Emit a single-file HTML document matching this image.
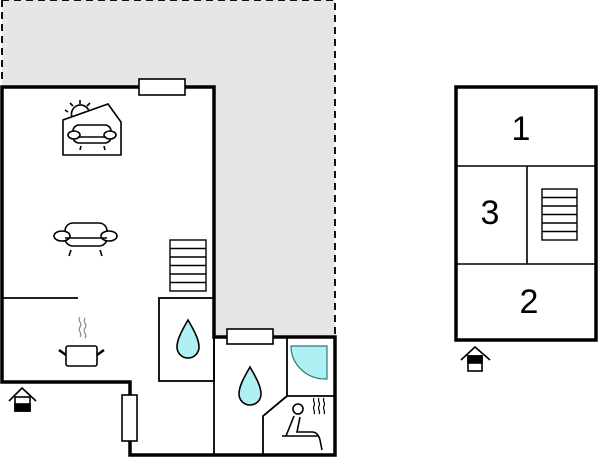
<!DOCTYPE html>
<html><head><style>body{margin:0;background:#fff}svg{display:block}</style></head><body>
<svg width="600" height="458" viewBox="0 0 600 458" xmlns="http://www.w3.org/2000/svg" font-family="Liberation Sans, sans-serif">
<path d="M2 0H335V335H214V87H2Z" fill="#e6e6e6"/>
<path d="M2 0H335V335" fill="none" stroke="#111" stroke-width="2" stroke-dasharray="7,5"/>
<path d="M2 0V84" stroke="#111" stroke-width="2" stroke-dasharray="7,5"/>
<path d="M2 87H214V337H335V455H130V382H2Z" fill="#fff" stroke="#000" stroke-width="3.5"/>
<g fill="none" stroke="#000" stroke-width="1.8">
<path d="M3 298H78"/>
<rect x="159" y="298" width="55" height="83"/>
<path d="M214 337V455"/>
<path d="M287 337V396H335"/>
<path d="M287 396L263 416V455"/>
</g>
<g fill="#fff" stroke="#000" stroke-width="1.6">
<rect x="139" y="79" width="46" height="16"/>
<rect x="227" y="329" width="46" height="15"/>
<rect x="122" y="395" width="15" height="46"/>
</g>
<g fill="#fff" stroke="#000" stroke-width="1.4">
<rect x="170" y="240" width="36" height="51"/>
<path d="M170 248.5H206M170 257H206M170 265.5H206M170 274H206M170 282.5H206"/>
</g>
<g fill="none" stroke="#000" stroke-width="1.6">
<path d="M63 154V155H121V122L108 104L63 120Z M63 120V154"/>
<path d="M72 117A9 9 0 0 1 89 111"/>
<path d="M80 104V100M73 106L70 103M87 106L90 103M68 112L65 110"/>
<rect x="73" y="125" width="38" height="18" rx="6" fill="#fff"/>
<ellipse cx="74" cy="135" rx="6" ry="4" fill="#fff"/>
<ellipse cx="110" cy="135" rx="6" ry="4" fill="#fff"/>
<path d="M78 137H106"/>
<path d="M81 146L80 150M104 146L105 150"/>
</g>
<g fill="none" stroke="#000" stroke-width="1.6">
<rect x="65" y="223" width="42" height="23" rx="8"/>
<ellipse cx="62" cy="236" rx="8" ry="5" fill="#fff"/>
<ellipse cx="109" cy="236" rx="8" ry="5" fill="#fff"/>
<path d="M65 238H107"/>
<path d="M71 250L69 256M100 250L102 256"/>
</g>
<g fill="none" stroke="#000" stroke-width="1.6">
<rect x="66" y="346" width="31" height="20" rx="2" fill="#fff"/>
<path d="M59 350L66 355M104 350L97 355" stroke-width="2.5"/>
<path d="M80 317c-3 4 3 6 0 10s3 6 0 10M85 318c-3 4 3 6 0 10s3 6 0 10" stroke="#888" stroke-width="1.2"/>
</g>
<g fill="#aef0f4" stroke="#000" stroke-width="1.6">
<path d="M188 320C181 332 177 340 177 347a11 11 0 0 0 22 0C199 340 195 332 188 320Z"/>
<path d="M250 367C243 379 239 387 239 394a11 11 0 0 0 22 0C261 387 257 379 250 367Z"/>
</g>
<path d="M291 346H327V379H325A34 33 0 0 1 291 346Z" fill="#aef0f4" stroke="#2a7a7a" stroke-width="1.2"/>
<g fill="none" stroke="#000" stroke-width="1.6">
<circle cx="298" cy="409" r="5"/>
<path d="M294 416L286 436M300 417L297 432H312Q318 432 320 440L322 450"/>
<path d="M282 436H318"/>
<path d="M314 398c-2 3 2 5 0 8s2 5 0 8M319 398c-2 3 2 5 0 8s2 5 0 8M324 398c-2 3 2 5 0 8s2 5 0 8" stroke-width="1.2"/>
</g>
<g stroke="#000" stroke-width="1.6" fill="none">
<path d="M9 401L22 388L36 401"/>
<rect x="15" y="397" width="15" height="14" fill="#fff"/>
<rect x="15" y="404" width="15" height="7" fill="#000"/>
</g>
<g fill="none" stroke="#000">
<rect x="456" y="87" width="140" height="253" stroke-width="3.5"/>
<path d="M456 166H596M456 264H596M527 166V264" stroke-width="1.6"/>
<rect x="542" y="189" width="35" height="51" fill="#fff" stroke-width="1.4"/>
<path d="M542 197.5H577M542 206H577M542 214.5H577M542 223H577M542 231.5H577" stroke-width="1.4"/>
</g>
<g font-size="34" text-anchor="middle" fill="#000">
<text x="521" y="140">1</text>
<text x="490" y="224">3</text>
<text x="529" y="313">2</text>
</g>
<g stroke="#000" stroke-width="1.6" fill="none">
<path d="M461 360L475 347L490 360"/>
<rect x="468" y="356" width="14" height="15" fill="#fff"/>
<rect x="468" y="356" width="14" height="7" fill="#000"/>
</g>
</svg>
</body></html>
